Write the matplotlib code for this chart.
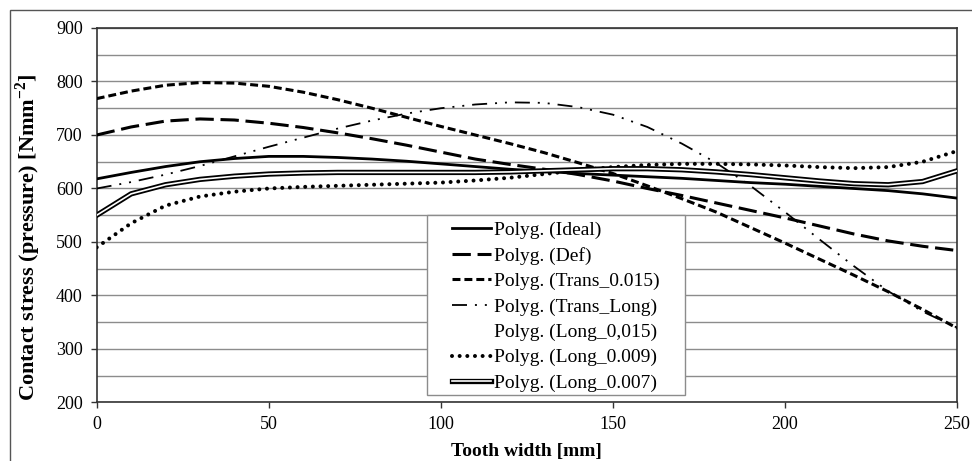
import matplotlib
matplotlib.use("Agg")
from matplotlib import pyplot as plt
from matplotlib import patches
import matplotlib.patheffects as pe

# Hamba laius [mm] ja kontaktpinge vaartused (loetud graafikult)
x = [0, 10, 20, 30, 40, 50, 60, 70, 80, 90, 100, 110, 120, 130, 140, 150,
     160, 170, 180, 190, 200, 210, 220, 230, 240, 250]

ideal = [618, 630, 641, 650, 656, 660, 660, 658, 655, 651, 646, 641, 636, 632, 628, 625,
         622, 619, 615, 611, 608, 604, 600, 596, 590, 582]
deff = [700, 715, 726, 730, 728, 722, 714, 704, 693, 681, 668, 655, 645, 636, 626, 614,
        600, 587, 573, 559, 545, 530, 515, 502, 492, 484]
trans_0015 = [768, 782, 793, 798, 797, 791, 780, 766, 750, 733, 716, 700, 684, 667, 648, 628,
              605, 581, 556, 527, 498, 468, 438, 407, 374, 339]
trans_long = [600, 612, 626, 642, 660, 678, 695, 712, 727, 740, 750, 757, 761, 760, 752, 738,
              715, 684, 648, 605, 556, 505, 455, 408, 370, 340]
long_0015 = [330, 420, 470, 500, 518, 530, 540, 546, 552, 558, 565, 573, 582, 592, 603, 615,
             627, 640, 652, 664, 676, 688, 698, 708, 716, 722]
long_0009 = [490, 535, 568, 585, 594, 600, 603, 605, 607, 609, 611, 615, 620, 627, 634, 640,
             644, 646, 646, 645, 643, 640, 638, 640, 650, 670]
long_0007 = [550, 590, 607, 617, 623, 627, 629, 630, 630, 630, 630, 630, 631, 633, 635, 637,
             637, 635, 631, 626, 620, 614, 609, 607, 613, 633]

labels = ["Polyg. (Ideal)", "Polyg. (Def)", "Polyg. (Trans_0.015)", "Polyg. (Trans_Long)",
          "Polyg. (Long_0,015)", "Polyg. (Long_0.009)", "Polyg. (Long_0.007)"]

plt.rcParams['font.family'] = ['Liberation Serif', 'DejaVu Serif']

fig = plt.figure(figsize=(9.72, 4.61), dpi=100)
fig.patch.set_facecolor("white")
ax = fig.add_axes([0.0995, 0.1269, 0.8851, 0.8124])

# raam ymber kogu pildi (parem ja alumine serv jaavad pildist valja)
fig.patches.append(patches.Rectangle((10 / 972, -0.1), 1.2, 1.1 - 10 / 461,
                                     transform=fig.transFigure, fill=False,
                                     edgecolor="#555555", linewidth=1.0))

ax.set_xlim(0, 250)
ax.set_ylim(200, 900)
ax.set_yticks(range(200, 901, 100))
ax.set_yticks(range(250, 900, 100), minor=True)
ax.set_xticks(range(0, 251, 50))
ax.grid(True, which="both", axis="y", color="#8c8c8c", linewidth=1.0, zorder=0)
ax.tick_params(axis="y", which="minor", length=0)
ax.tick_params(axis="both", which="major", direction="out", length=4, width=1,
               color="#333333", labelsize=13, pad=6)
for s in ax.spines.values():
    s.set_color("#333333")
    s.set_linewidth(1.2)

# valge joon - nahtav ainult ruudustiku katkestustena
ax.plot(x, long_0015, color="white", lw=2.5, linestyle=(0, (3, 6)), zorder=1)

h_ideal, = ax.plot(x, ideal, color="black", lw=2.0, zorder=3)
h_def, = ax.plot(x, deff, color="black", lw=2.2, linestyle=(0, (6, 2.2)), zorder=3)
h_tr, = ax.plot(x, trans_0015, color="black", lw=2.2, linestyle=(0, (2.6, 1.3)), zorder=3)
h_tl, = ax.plot(x, trans_long, color="black", lw=1.3,
                linestyle=(0, (8.3, 4.4, 1.1, 4.4, 1.1, 4.4)), zorder=3)
h_09, = ax.plot(x, long_0009, color="black", lw=2.9, linestyle=(0, (0.001, 1.9)),
                dash_capstyle="round", zorder=3)
h_07, = ax.plot(x, long_0007, color="white", lw=1.2, zorder=3,
                path_effects=[pe.Stroke(linewidth=3.8, foreground="black"), pe.Normal()])
h_015, = ax.plot([], [], color="white", lw=2)

# legendi raam
ax.add_patch(patches.Rectangle((0.384, 0.020), 0.300, 0.4807, transform=ax.transAxes,
                               facecolor="white", edgecolor="#8c8c8c", lw=1.0, zorder=4))
leg = ax.legend([h_ideal, h_def, h_tr, h_tl, h_015, h_09, h_07], labels,
                loc="upper left", bbox_to_anchor=(0.413, 0.484), frameon=False,
                fontsize=14, handlelength=2.0, handletextpad=0.15, labelspacing=0.40,
                borderpad=0, borderaxespad=0)
leg.set_zorder(5)

ax.set_xlabel("Tooth width [mm]", fontsize=14, fontweight="bold")
ax.xaxis.set_label_coords(0.5, -0.108)
ax.xaxis.label.set_verticalalignment("top")
ax.set_ylabel("Contact stress (pressure) [Nmm$^{\\mathregular{-2}}$]", fontsize=16,
              fontweight="bold")
ax.yaxis.set_label_coords(-0.0625, 0.442)

fig.savefig("out.png", dpi=100, facecolor="white")
